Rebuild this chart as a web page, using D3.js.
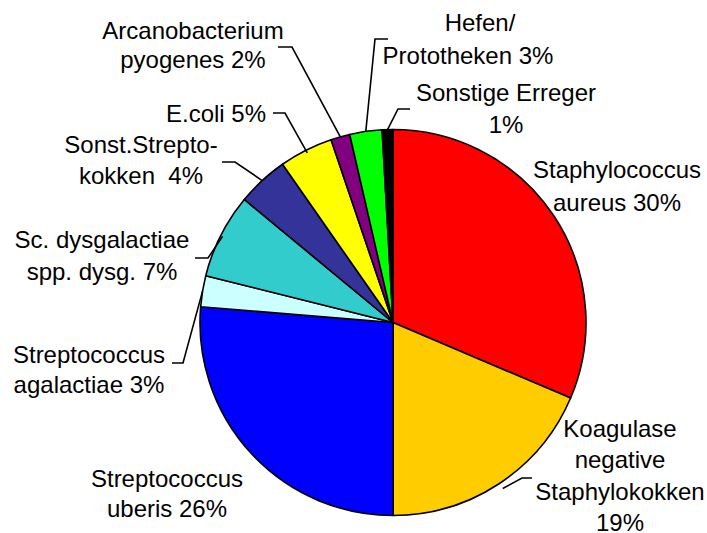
<!DOCTYPE html>
<html>
<head>
<meta charset="utf-8">
<script src="https://cdn.jsdelivr.net/npm/d3@7"></script>
<style>
  body { margin: 0; background: #fff; }
  text { font-family: "Liberation Sans", Arial, sans-serif; font-size: 24px; fill: #000; }
</style>
</head>
<body>
<div id="chart"></div>
<script>
// pathogen shares, clockwise from 12 o'clock
var categories = ['Staphylococcus aureus', 'Koagulase negative Staphylokokken', 'Streptococcus uberis',
    'Streptococcus agalactiae', 'Sc. dysgalactiae spp. dysg.', 'Sonst.Streptokokken', 'E.coli',
    'Arcanobacterium pyogenes', 'Hefen/Prototheken', 'Sonstige Erreger'];
var shares = [31.4, 18.6, 26.3, 2.6, 7.1, 4.3, 4.5, 1.6, 2.7, 0.9];
var labelLines = [
    ['Staphylococcus', 'aureus 30%'],
    ['Koagulase', 'negative', 'Staphylokokken', '19%'],
    ['Streptococcus', 'uberis 26%'],
    ['Streptococcus', 'agalactiae 3%'],
    ['Sc. dysgalactiae', 'spp. dysg. 7%'],
    ['Sonst.Strepto-', 'kokken\u00a0 4%'],
    ['E.coli 5%'],
    ['Arcanobacterium', 'pyogenes 2%'],
    ['Hefen/', 'Prototheken 3%'],
    ['Sonstige Erreger', '1%']
];
var colors = ['#ff0000', '#ffcc00', '#0000ff', '#ccffff', '#33cccc', '#333399', '#ffff00', '#800080', '#00ff00', '#000000'];

// label placement: centre x, first baseline y, line step; leader: start x, elbow x, y
var labelPos = [
    {x: 617, y: 178, step: 32.5},
    {x: 620, y: 437, step: 31.3},
    {x: 167, y: 487, step: 30},
    {x: 89, y: 363, step: 30},
    {x: 102, y: 248, step: 31.7},
    {x: 141, y: 153, step: 31},
    {x: 216, y: 122, step: 30},
    {x: 193, y: 39, step: 29},
    {x: 468, y: 31, step: 32.5, dx0: 12},
    {x: 506, y: 101, step: 31.7}
];
var leaders = [
    null,
    {x0: 532, x1: 522, y: 478, rr: 6},
    null,
    {x0: 172, x1: 183, y: 363, rr: 0},
    {x0: 195, x1: 208, y: 258, rr: -2},
    {x0: 222, x1: 235, y: 162, rr: 0},
    {x0: 273, x1: 285, y: 113, rr: -3},
    {x0: 278, x1: 292, y: 47, rr: 0},
    {x0: 388, x1: 375, y: 39, rr: 0},
    {x0: 410, x1: 398, y: 109, rr: 0}
];

var width = 707, height = 533;
var cx = 393, cy = 322.5, radius = 193;

var svg = d3.select('#chart').append('svg')
    .attr('width', width)
    .attr('height', height);

var pie = d3.pie().sort(null).value(function(d) { return d; });
var arcs = pie(shares);
var arc = d3.arc().innerRadius(0).outerRadius(radius);

var g = svg.append('g').attr('transform', 'translate(' + cx + ',' + cy + ')');

g.selectAll('path')
    .data(arcs)
    .enter()
    .append('path')
    .attr('d', arc)
    .attr('fill', function(d, i) { return colors[i]; })
    .attr('stroke', '#000')
    .attr('stroke-width', 1.6)
    .attr('stroke-linejoin', 'round');

// leader lines
arcs.forEach(function(a, i) {
    var l = leaders[i];
    if (!l) return;
    var mid = (a.startAngle + a.endAngle) / 2;
    var r = radius + l.rr;
    var px = cx + r * Math.sin(mid);
    var py = cy - r * Math.cos(mid);
    svg.append('polyline')
        .attr('points', [[l.x0, l.y], [l.x1, l.y], [px, py]].map(function(p) { return p.join(','); }).join(' '))
        .attr('fill', 'none')
        .attr('stroke', '#000')
        .attr('stroke-width', 1.6);
});

// labels
labelLines.forEach(function(lines, i) {
    var p = labelPos[i];
    var t = svg.append('text').attr('text-anchor', 'middle');
    lines.forEach(function(s, j) {
        t.append('tspan')
            .attr('x', p.x + (j === 0 && p.dx0 ? p.dx0 : 0))
            .attr('y', p.y + j * p.step)
            .text(s);
    });
});
</script>
</body>
</html>
